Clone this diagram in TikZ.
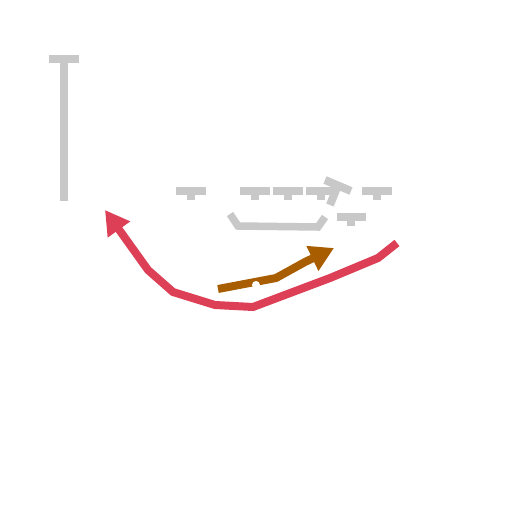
\documentclass[tikz,border=0pt]{standalone}
\usetikzlibrary{arrows.meta}
\definecolor{blockgray}{HTML}{C8C8C8}
\definecolor{routered}{HTML}{DC3F56}
\definecolor{motionbrown}{HTML}{A85D00}
\begin{document}
\begin{tikzpicture}[x=1pt, y=-1pt, line join=miter,
    block/.style={blockgray, line width=8pt},
    route/.style={routered, line width=8pt, -{Triangle[length=24pt, width=26pt]}},
    motion/.style={motionbrown, line width=8pt, -{Triangle[length=24pt, width=26pt]}}]
    \useasboundingbox[fill=white] (0,0) rectangle (512,512);

    % Deep player
    \draw[block] (64,201) -- (64,60);
    \draw[block] (49,59) -- (79,59);

    % Line of blockers
    \foreach \x in {191, 255, 288, 321, 377} {
        \draw[block] (\x-15,191) -- (\x+15,191);
        \draw[block] (\x,191) -- (\x,200);
    }
    % Turned blocker and the one behind
    \draw[block] (325,180) -- (351,191);
    \draw[block] (338,185) -- (330,205);
    \draw[block] (337,217) -- (366,217);
    \draw[block] (351,217) -- (351,226);

    % Pulling path
    \draw[block, line width=7.5pt] (230,214) -- (238,226) -- (318,227) -- (325,217);

    % Runner route
    \coordinate (rs) at (397,243);
    \coordinate (re) at (105,210);
    \draw[route] (rs) -- (378,258) -- (330,278) -- (253,307) -- (215,305)
        -- (173,292) -- (148,270) -- (re);

    % Motion
    \coordinate (ms) at (218,289);
    \coordinate (me) at (334,248);
    \draw[motion] (ms) -- (276,278) -- (305,262) -- (me);
    \fill[white] (256,285) circle (4);
\end{tikzpicture}
\end{document}
